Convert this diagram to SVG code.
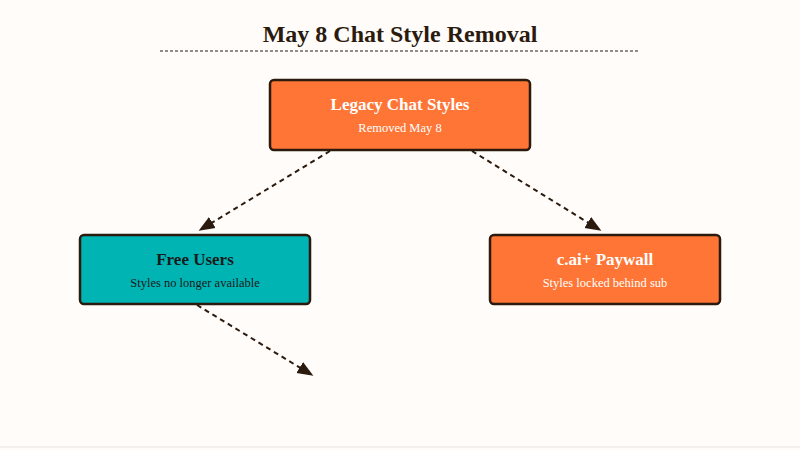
<svg xmlns="http://www.w3.org/2000/svg" width="800" height="450" viewBox="0 0 800 450">
<style>
.box{stroke:#2b1a0e;stroke-width:2.5}
.t{font-family:"Liberation Serif","DejaVu Serif",serif;font-weight:bold;font-size:17px;text-anchor:middle}
.s{font-family:"Liberation Serif","DejaVu Serif",serif;font-size:12.5px;text-anchor:middle}
.c{stroke:#2b1a0e;stroke-width:2;stroke-dasharray:5,4;fill:none;marker-end:url(#a)}
</style>
<defs><marker id="a" viewBox="0 0 10 10" refX="9" refY="5" markerWidth="8" markerHeight="8" markerUnits="userSpaceOnUse" orient="auto"><path d="M0,0L10,5L0,10z" fill="#2b1a0e" transform="scale(1)"/></marker>
<marker id="b" viewBox="0 0 10 10" refX="9" refY="5" markerWidth="16" markerHeight="16" markerUnits="userSpaceOnUse" orient="auto"><path d="M0,1L10,5L0,9z" fill="#2b1a0e"/></marker></defs>
<rect width="800" height="450" fill="#fffcfa"/>
<line x1="0" y1="447" x2="800" y2="447" stroke="#e6e3e0"/>
<text x="400" y="42" font-family="Liberation Serif,DejaVu Serif,serif" font-weight="bold" font-size="24" text-anchor="middle" fill="#2b1a0e">May 8 Chat Style Removal</text>
<line x1="160" y1="51" x2="638" y2="51" stroke="#2b1a0e" stroke-width="1.2" stroke-dasharray="3,2"/>
<g id="connectors">
<path class="c" style="marker-end:url(#b)" d="M330,151L200,230"/>
<path class="c" style="marker-end:url(#b)" d="M472,151L600,230"/>
<path class="c" style="marker-end:url(#b)" d="M197,305L312,375"/>
</g>
<g id="legacy"><rect class="box" x="270" y="80" width="260" height="70" rx="4" fill="#fe7535"/>
<text class="t" x="400" y="110" fill="#fff">Legacy Chat Styles</text><text class="s" x="400" y="132" fill="#fff">Removed May 8</text></g>
<g id="free"><rect class="box" x="80" y="235" width="230" height="69" rx="4" fill="#00b4b4"/>
<text class="t" x="195" y="265" fill="#1a1a1a">Free Users</text><text class="s" x="195" y="287" fill="#1a1a1a">Styles no longer available</text></g>
<g id="paywall"><rect class="box" x="490" y="235" width="230" height="69" rx="4" fill="#fe7535"/>
<text class="t" x="605" y="265" fill="#fff">c.ai+ Paywall</text><text class="s" x="605" y="287" fill="#fff">Styles locked behind sub</text></g>
</svg>
